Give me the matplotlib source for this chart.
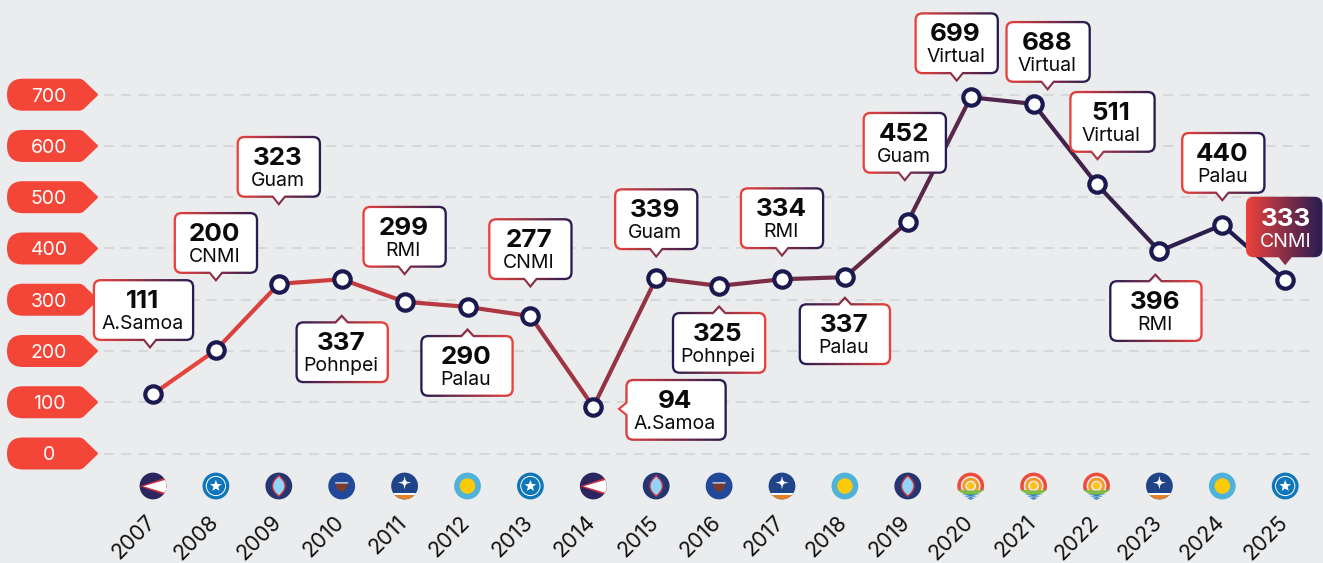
import numpy as np
import matplotlib
matplotlib.use('Agg')
import matplotlib.pyplot as plt
from matplotlib.path import Path
from matplotlib.patches import PathPatch, Circle, Polygon, Wedge, Rectangle
from matplotlib.colors import to_rgb
from matplotlib.transforms import Affine2D, ScaledTranslation

years = [2007, 2008, 2009, 2010, 2011, 2012, 2013, 2014, 2015, 2016, 2017, 2018, 2019, 2020, 2021, 2022, 2023, 2024, 2025]
# where the line really sits on the y scale
line_values = [116, 202, 331, 340, 296, 286, 268, 91, 342, 327, 340, 344, 452, 695, 682, 526, 395, 446, 338]
# what the callouts say
shown_values = [111, 200, 323, 337, 299, 290, 277, 94, 339, 325, 334, 337, 452, 699, 688, 511, 396, 440, 333]
hosts = ['A.Samoa', 'CNMI', 'Guam', 'Pohnpei', 'RMI', 'Palau', 'CNMI', 'A.Samoa', 'Guam', 'Pohnpei', 'RMI', 'Palau',
         'Guam', 'Virtual', 'Virtual', 'Virtual', 'RMI', 'Palau', 'CNMI']
y_ticks = [0, 100, 200, 300, 400, 500, 600, 700]

# callout layout, in pixels relative to the point
sides = ['a', 'a', 'a', 'b', 'a', 'b', 'a', 'r', 'a', 'b', 'a', 'b', 'a', 'a', 'a', 'a', 'b', 'a', 'a']
gaps = [45, 68, 78, 35, 26, 21, 28, 24, 20, 19, 22, 19, 40, 15, 13, 23, 22, 23, 15]
box_dx = [-9.5, 0, 0, 0.5, 0, -0.5, 0, 83, 0, 0, 0, 0, -3, -14, 14.5, 16, -3.5, 1, -1]
tip_dx = [-3, 0, 0, 0, 0, 0, 0, 0, 0, 0, 0, 0, -3, -14, 14, 1, -4, 0, 0]
box_w = [101.5, 84.5, 84.5, 93.5, 84.5, 93.5, 84.5, 101.5, 84.5, 94.5, 84.5, 92.5, 84.5, 84.5, 85.5, 86.5, 93.5, 84.5, 76.5]

RED = '#F44539'
NAVY = '#1B1A50'
BG = '#EBECEE'
W, H = 1323, 563

plt.rcParams['font.family'] = ['Inter', 'DejaVu Sans']

fig = plt.figure(figsize=(W / 100, H / 100), dpi=100, facecolor=BG)
ax = fig.add_axes([104 / W, (H - 470) / H, (1310 - 104) / W, 470 / H], facecolor='none')
step = (1285.2 - 153) / 18
k = (453.5 - 94.7) / 700
ax.set_xlim(2007 + (104 - 153) / step, 2007 + (1310 - 153) / step)
ax.set_ylim((453.5 - 470) / k, 453.5 / k)
for s in ax.spines.values():
    s.set_visible(False)

ov = fig.add_axes([0, 0, 1, 1], facecolor='none')
ov.set_xlim(0, W)
ov.set_ylim(H, 0)
ov.set_autoscale_on(False)
ov.axis('off')


def to_px(x, y):
    return ov.transData.inverted().transform(ax.transData.transform((x, y)))


# axis and grid
ax.set_axisbelow(True)
ax.set_yticks(y_ticks)
ax.set_yticklabels([str(v) for v in y_ticks], fontsize=14, color='white', ha='center')
ax.tick_params(axis='y', length=0, pad=39.6)
ax.grid(axis='y', color='#D7D8DA', lw=1.5, linestyle=(0, (4.8, 3.4)), dash_capstyle='butt')
ax.set_xticks(years)
ax.set_xticklabels([str(v) for v in years], fontsize=15.6, color='#111111')
ax.tick_params(axis='x', length=0, pad=0)
shift = ScaledTranslation(-1 / 100, -49 / 100, fig.dpi_scale_trans)
for lab in ax.get_xticklabels():
    lab.set_rotation(45)
    lab.set_ha('right')
    lab.set_va('center')
    lab.set_rotation_mode('anchor')
    lab.set_transform(lab.get_transform() + shift)


def pill_path(yc):
    x0, x1, xc, r = 7, 98.5, 82, 16
    v = [(x0 + r, yc - r), (xc - 3, yc - r), (xc, yc - r), (xc + 2, yc - r + 2), (x1 - 1, yc - 1), (x1, yc), (x1 - 1, yc + 1),
         (xc + 2, yc + r - 2), (xc, yc + r), (xc - 3, yc + r), (x0 + r, yc + r),
         (x0, yc + r), (x0, yc), (x0, yc - r), (x0 + r, yc - r), (x0 + r, yc - r)]
    c = [Path.MOVETO, Path.LINETO, Path.CURVE3, Path.CURVE3, Path.LINETO, Path.CURVE3, Path.CURVE3,
         Path.LINETO, Path.CURVE3, Path.CURVE3, Path.LINETO,
         Path.CURVE3, Path.CURVE3, Path.CURVE3, Path.CURVE3, Path.CLOSEPOLY]
    return Path(v, c)


# pills sit under the axis so the tick labels draw over them
for v in y_ticks:
    yc = to_px(2007, v)[1]
    ax.add_patch(PathPatch(pill_path(yc), fc=RED, ec='none', transform=ov.transData, clip_on=False, zorder=0.1))

# line, coloured from red to navy along x
c0, c1 = np.array(to_rgb('#EA453B')), np.array(to_rgb(NAVY))
for i in range(len(years) - 1):
    f = (i + 0.5) / (len(years) - 1)
    ax.plot(years[i:i + 2], line_values[i:i + 2], color=c0 * (1 - f) + c1 * f, lw=3.0,
            solid_capstyle='round', clip_on=False, zorder=3)
ax.plot(years, line_values, 'o', ms=11.8, mfc='white', mec=NAVY, mew=3.0, clip_on=False, zorder=4)


def callout_path(x0, y0, x1, y1, r, side, t, tw, th):
    v = [(x0 + r, y0)]
    c = [Path.MOVETO]

    def add(pts, codes):
        v.extend(pts)
        c.extend(codes)

    if side == 'b':
        add([(t - tw, y0), (t, y0 - th), (t + tw, y0)], [Path.LINETO] * 3)
    add([(x1 - r, y0), (x1, y0), (x1, y0 + r)], [Path.LINETO, Path.CURVE3, Path.CURVE3])
    add([(x1, y1 - r), (x1, y1), (x1 - r, y1)], [Path.LINETO, Path.CURVE3, Path.CURVE3])
    if side == 'a':
        add([(t + tw, y1), (t, y1 + th), (t - tw, y1)], [Path.LINETO] * 3)
    add([(x0 + r, y1), (x0, y1), (x0, y1 - r)], [Path.LINETO, Path.CURVE3, Path.CURVE3])
    if side == 'r':
        add([(x0, t + tw), (x0 - th, t), (x0, t - tw)], [Path.LINETO] * 3)
    add([(x0, y0 + r), (x0, y0), (x0 + r, y0), (x0 + r, y0)], [Path.LINETO, Path.CURVE3, Path.CURVE3, Path.CLOSEPOLY])
    return Path(v, c)


# callouts
red_rgb, navy_rgb = np.array(to_rgb('#EE433B')), np.array(to_rgb('#231B52'))
ramp = np.linspace(0, 1, 64)[None, :, None]
grad = red_rgb[None, None, :] * (1 - ramp) + navy_rgb[None, None, :] * ramp
for i in range(len(years)):
    px, py = to_px(years[i], line_values[i])
    last = i == len(years) - 1
    w, h = box_w[i], 60.5 if last else 62
    th = 7 if sides[i] == 'b' else 8
    if sides[i] == 'a':
        y1 = py - gaps[i] - th
        y0 = y1 - h
        x0 = px + box_dx[i] - w / 2
        t = px + tip_dx[i]
    elif sides[i] == 'b':
        y0 = py + gaps[i] + th
        y1 = y0 + h
        x0 = px + box_dx[i] - w / 2
        t = px + tip_dx[i]
    else:
        x0 = px + gaps[i] + th
        y0 = py - 28
        y1 = y0 + h
        t = py + 2
    x1 = x0 + w
    outer = callout_path(x0, y0, x1, y1, 8, sides[i], t, 6.5, th)
    g = grad[:, ::-1, :] if sides[i] == 'b' else grad
    # a little wider than the box, so the end colours stay visible; the left tip needs room too
    left = x0 - (10 if sides[i] == 'r' else 1)
    im = ov.imshow(g, extent=(left, x1 + 1, y1 + 12, y0 - 12), aspect='auto', interpolation='bilinear', zorder=5)
    im.set_clip_path(outer, ov.transData)
    if not last:
        inner = callout_path(x0 + 2.3, y0 + 2.3, x1 - 2.3, y1 - 2.3, 5.7, sides[i], t, 5.7, th - 1)
        ov.add_patch(PathPatch(inner, fc='white', ec='none', zorder=6))
    col = 'white' if last else '#0A0A0A'
    cx = (x0 + x1) / 2 + (1.5 if last else -1.2)
    ov.text(cx, y0 + 29, str(shown_values[i]), ha='center', va='baseline', fontsize=18.7, fontweight='bold', color=col, zorder=7)
    ov.text(cx, y0 + 49.8, hosts[i], ha='center', va='baseline', fontsize=14, color=col, zorder=7)


# small flag badges
def star(n, r_out, r_in, cy=0.0):
    a = np.arange(2 * n) * np.pi / n - np.pi / 2
    r = np.where(np.arange(2 * n) % 2 == 0, r_out, r_in)
    return np.column_stack([r * np.cos(a), cy + r * np.sin(a)])


def flag(name, cx, cy, r=13.4):
    t = Affine2D().scale(r).translate(cx, cy) + ov.transData

    def put(p, clip=None):
        p.set_transform(t)
        p.set_zorder(2)
        ov.add_patch(p)
        if clip is not None:
            p.set_clip_path(clip)
        return p

    if name == 'A.Samoa':
        base = put(Circle((0, 0), 1, fc='#2B2560', lw=0))
        put(Polygon([(-0.98, 0.02), (1.2, -0.72), (1.2, 0.78)], fc='#C7303F', lw=0), base)
        put(Polygon([(-0.72, 0.02), (1.2, -0.54), (1.2, 0.6)], fc='white', lw=0), base)
    elif name == 'CNMI':
        put(Circle((0, 0), 1, fc='#0F76B9', lw=0))
        put(Circle((0, 0), 0.72, fc='none', ec='white', lw=0.7))
        put(Polygon(star(5, 0.45, 0.19), fc='white', lw=0))
    elif name == 'Guam':
        put(Circle((0, 0), 1, fc='#243672', lw=0))
        lens = Path([(0, -0.76), (0.95, 0), (0, 0.76), (-0.95, 0), (0, -0.76), (0, -0.76)],
                    [Path.MOVETO, Path.CURVE3, Path.CURVE3, Path.CURVE3, Path.CURVE3, Path.CLOSEPOLY])
        put(PathPatch(lens, fc='#93D3F7', ec='#C8313F', lw=1.0))
    elif name == 'Pohnpei':
        put(Circle((0, 0), 1, fc='#22489A', lw=0))
        put(Polygon([(-0.5, -0.2), (0.5, -0.2), (0.34, 0.2), (0, 0.48), (-0.34, 0.2)], fc='#7B3C2C', lw=0))
        put(Polygon([(-0.5, -0.3), (0.5, -0.3), (0.47, -0.17), (-0.47, -0.17)], fc='#AEBBD4', lw=0))
    elif name == 'RMI':
        base = put(Circle((0, 0), 1, fc='#1F4488', lw=0))
        put(Polygon(star(4, 0.5, 0.12, -0.25), fc='white', lw=0))
        put(Circle((0, -0.25), 0.18, fc='white', lw=0))
        put(Rectangle((-1, 0.5), 2, 0.18, fc='white', lw=0), base)
        put(Rectangle((-1, 0.68), 2, 0.4, fc='#E28128', lw=0), base)
    elif name == 'Palau':
        put(Circle((0, 0), 1, fc='#4FB3D9', lw=0))
        put(Circle((0, 0), 0.58, fc='#FDCA0B', lw=0))
    else:
        top = Rectangle((-1.1, -1.1), 2.2, 1.45)
        top.set_transform(t)
        put(Wedge((0, 0), 1.0, 0, 360, width=0.26, fc='#EE4B3C', lw=0), top)
        put(Wedge((0, 0), 0.62, 0, 360, width=0.22, fc='#F79A24', lw=0), top)
        put(Circle((0, -0.02), 0.28, fc='#FDC51A', lw=0))
        green = Path([(-0.98, 0.26), (0, 0.42), (0.98, 0.26), (0.8, 0.58), (0, 0.72), (-0.8, 0.58), (-0.98, 0.26)],
                     [Path.MOVETO, Path.CURVE3, Path.CURVE3, Path.CURVE3, Path.CURVE3, Path.CURVE3, Path.CURVE3])
        put(PathPatch(green, fc='#7FBB47', lw=0))
        for yw, hw in [(0.62, 0.72), (0.76, 0.52), (0.9, 0.3)]:
            put(Polygon([(-hw, yw), (0, yw + 0.02), (hw, yw), (0, yw + 0.14)], fc='#2E7FC1', lw=0))


for i in range(len(years)):
    flag(hosts[i], to_px(years[i], 0)[0], 486)

fig.savefig('out.png', dpi=100, facecolor=BG)
